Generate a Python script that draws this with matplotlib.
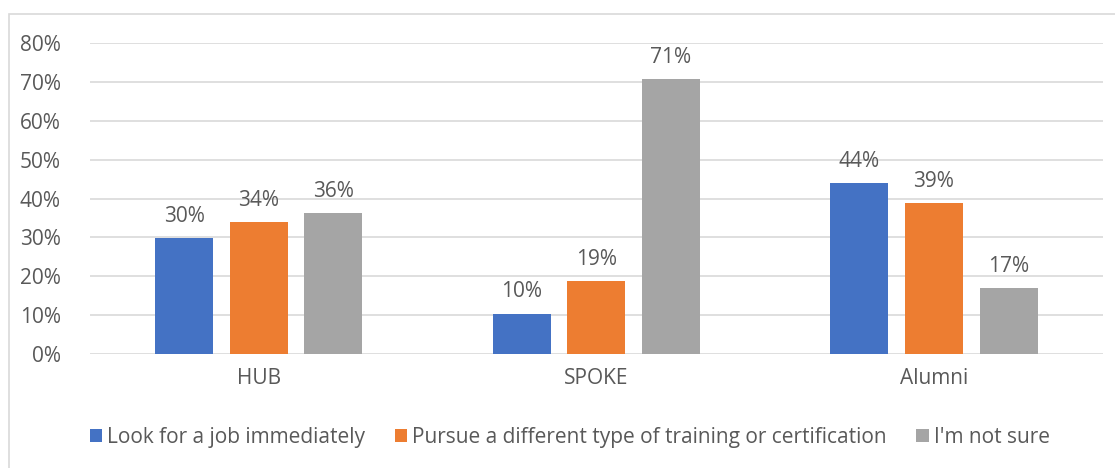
import matplotlib.pyplot as plt
from matplotlib.patches import Rectangle
import numpy as np

groups = ["HUB", "SPOKE", "Alumni"]
series = ["Look for a job immediately",
          "Pursue a different type of training or certification",
          "I'm not sure"]
job_now = [29.8, 10.4, 44.0]
training = [33.9, 18.8, 38.9]
not_sure = [36.2, 70.8, 17.0]
labels_job = ["30%", "10%", "44%"]
labels_train = ["34%", "19%", "39%"]
labels_unsure = ["36%", "71%", "17%"]
yticks = [0, 10, 20, 30, 40, 50, 60, 70, 80]

colors = ["#4472C4", "#ED7D31", "#A5A5A5"]
txt = "#595959"
plt.rcParams['font.family'] = ['Open Sans', 'DejaVu Sans']

fig = plt.figure(figsize=(11.15, 4.68), dpi=100)
ax = fig.add_axes([0.0807, 0.2436, 0.9083, 0.6645])

x = np.arange(len(groups))
w = 0.172
step = 0.221
data = [job_now, training, not_sure]
labs = [labels_job, labels_train, labels_unsure]
for i in range(3):
    bars = ax.bar(x + (i - 1) * step, data[i], w, color=colors[i], label=series[i], zorder=3)
    ax.bar_label(bars, labels=labs[i], padding=8, fontsize=15, color=txt)

ax.set_xlim(-0.5, 2.5)
ax.set_ylim(0, 80)
ax.set_yticks(yticks)
ax.set_yticklabels([f"{t}%" for t in yticks])
ax.set_xticks(x)
ax.set_xticklabels(groups)
ax.tick_params(axis='both', length=0, labelsize=15, colors=txt)
ax.tick_params(axis='y', pad=21)
ax.tick_params(axis='x', pad=10)
ax.grid(axis='y', color="#D9D9D9", linewidth=1.2, zorder=0)
for s in ax.spines.values():
    s.set_visible(False)

fig.legend(loc='center', bbox_to_anchor=(0.511, 0.066), ncol=3, frameon=False,
           fontsize=15, labelcolor=txt, handlelength=0.6, handleheight=0.6,
           handletextpad=0.25, columnspacing=1.4)

fig.patches.append(Rectangle((9 / 1115, -0.05), 1.0, 1.05 - 14 / 468, transform=fig.transFigure,
                             fill=False, edgecolor="#D9D9D9", linewidth=1.2))

fig.savefig("out.png", dpi=100)
